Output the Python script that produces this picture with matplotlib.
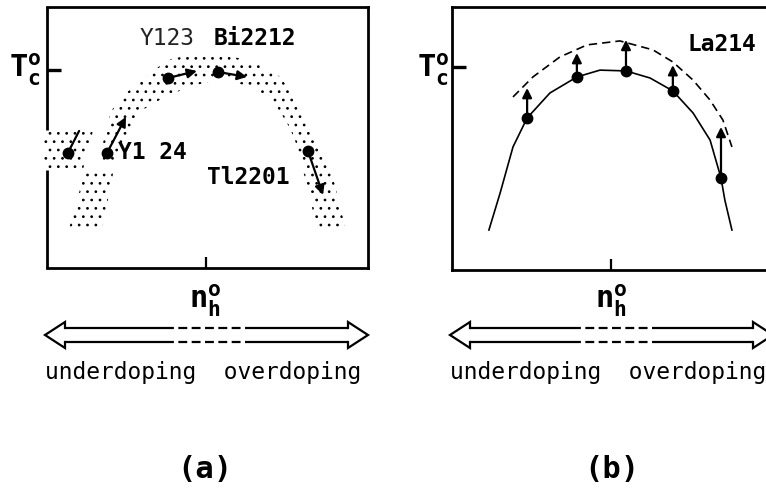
import matplotlib
matplotlib.use("Agg")
import matplotlib.pyplot as plt
from matplotlib.patches import Polygon

plt.rcParams["font.family"] = "DejaVu Sans Mono"
plt.rcParams["mathtext.fontset"] = "custom"
plt.rcParams["mathtext.rm"] = "DejaVu Sans Mono"
plt.rcParams["mathtext.bf"] = "DejaVu Sans Mono:bold"
plt.rcParams["hatch.linewidth"] = 0.75

# (a) samples: where each sits on the dome and where it moves to
a_dot_x = [6.5, 18.7, 37.7, 53.3, 81.3]
a_dot_y = [44.1, 44.1, 72.8, 75.1, 44.8]
a_end_x = [10.0, 24.6, 46.7, 62.3, 86.0]
a_end_y = [52.5, 57.9, 75.5, 73.2, 28.0]
a_head = [False, True, True, True, True]

# (a) stippled region of the Tc dome
band_outer_x = [17.0, 18.1, 20.2, 23.8, 29.0, 34.2, 37.3, 44.5, 52.9, 60.1, 66.4,
                72.6, 76.7, 79.8, 83.0, 86.1, 88.7, 90.2, 91.8, 92.8]
band_outer_y = [43.3, 53.5, 60.5, 66.3, 71.4, 76.5, 79.7, 81.6, 82.3, 80.3, 77.8,
                73.3, 66.3, 59.9, 52.2, 44.6, 36.9, 29.2, 21.6, 15.2]
band_inner_x = [83.5, 82.5, 80.9, 79.3, 77.8, 75.7, 72.6, 69.5, 64.3, 58.0, 50.8,
                44.5, 38.3, 33.1, 29.0, 26.9, 23.8, 21.7, 20.7, 17.0]
band_inner_y = [15.2, 24.1, 31.8, 39.5, 47.1, 53.5, 59.9, 65.0, 68.9, 71.4, 71.4,
                69.5, 66.3, 63.1, 59.9, 54.8, 48.4, 43.3, 40.7, 40.7]
patch_left_x = [-1.0, 14.4, 11.3, -1.0]
patch_left_y = [52.2, 52.9, 38.2, 38.2]
patch_low_x = [11.8, 20.7, 17.0, 6.6]
patch_low_y = [36.9, 36.9, 13.9, 13.9]

# (b) La214: measured Tc, shifted Tc, and the two dome curves
b_dot_x = [23.4, 38.9, 54.2, 68.8, 83.8]
b_dot_y = [57.8, 73.4, 75.7, 68.1, 35.0]
b_tip_y = [69.2, 82.5, 87.5, 77.9, 54.4]
b_solid_x = [11.5, 15.0, 19.0, 23.4, 30.5, 38.9, 46.1, 54.2, 61.7, 68.8, 75.1,
             80.4, 83.8, 85.0, 87.2]
b_solid_y = [15.2, 29.3, 46.8, 57.8, 67.3, 73.4, 76.0, 75.7, 73.0, 68.1, 59.7,
             49.4, 35.0, 26.6, 15.2]
b_dash_x = [19.0, 25.2, 33.6, 42.1, 52.3, 62.6, 68.8, 75.1, 80.4, 84.4, 87.2]
b_dash_y = [65.8, 73.4, 81.0, 85.6, 87.1, 83.7, 79.1, 72.2, 64.6, 57.0, 46.8]

nh_opt = 49.5
tc_max_a = 75.9
tc_max_b = 77.2

W, H = 766, 500
LBL = 16.5


def frame(fig, left, top, right, bottom):
    ax = fig.add_axes([left / W, 1 - bottom / H, (right - left) / W, (bottom - top) / H])
    ax.set_xlim(0, 100)
    ax.set_ylim(0, 100)
    for s in ax.spines.values():
        s.set_linewidth(2.0)
    ax.set_xticks([nh_opt])
    ax.set_xticklabels([])
    ax.tick_params(axis="x", direction="in", length=8, width=1.6)
    ax.tick_params(axis="y", direction="in", length=10, width=2.4)
    return ax


def doping_arrow(ov, x0, x1, y, d0, d1):
    half, head, spread = 7, 20, 13
    kw = dict(color="k", lw=1.6, solid_capstyle="butt")
    for yy in (y - half, y + half):
        ov.plot([x0 + head, d0], [yy, yy], **kw)
        ov.plot([d0, d1], [yy, yy], ls=(0, (4, 2)), **kw)
        ov.plot([d1, x1 - head], [yy, yy], **kw)
    for tip, base in ((x0, x0 + head), (x1, x1 - head)):
        ov.plot([base, base, tip, base, base],
                [y - half, y - spread, y, y + spread, y + half],
                color="k", lw=1.6, solid_joinstyle="miter")


def axis_labels(fig, tx, nx, underx):
    fig.text(tx / W, 1 - 70 / H, r"$\mathbf{T}_\mathbf{c}^\mathbf{o}$",
             fontsize=22, ha="center", va="center")
    fig.text(nx / W, 1 - 301 / H, r"$\mathbf{n}_\mathbf{h}^\mathbf{o}$",
             fontsize=22, ha="center", va="center")
    fig.text(underx / W, 1 - 373 / H, "underdoping  overdoping",
             fontsize=LBL, ha="center", va="center")


fig = plt.figure(figsize=(W / 100, H / 100), dpi=100)

ov = fig.add_axes([0, 0, 1, 1], zorder=-1)
ov.set_xlim(0, W)
ov.set_ylim(H, 0)
ov.axis("off")

# ---- (a)
ax = frame(fig, 47, 7, 368, 268)
ax.set_yticks([tc_max_a])
ax.set_yticklabels([])
ax.spines["left"].set_visible(False)
for y0, y1 in ((0, 0.375), (0.529, 1)):
    ax.plot([0, 0], [y0, y1], transform=ax.transAxes, color="k", lw=2.0,
            clip_on=False, solid_capstyle="butt")

band = list(zip(band_outer_x + band_inner_x, band_outer_y + band_inner_y))
for pts in (band, list(zip(patch_left_x, patch_left_y)), list(zip(patch_low_x, patch_low_y))):
    ax.add_patch(Polygon(pts, closed=True, facecolor="none", edgecolor="k",
                         linewidth=0, hatch="..", clip_on=False))

ax.plot(a_dot_x, a_dot_y, "o", color="k", ms=7.5, ls="none", zorder=5)
for x0, y0, x1, y1, hd in zip(a_dot_x, a_dot_y, a_end_x, a_end_y, a_head):
    style = "-|>" if hd else "-"
    ax.annotate("", xy=(x1, y1), xytext=(x0, y0),
                arrowprops=dict(arrowstyle=style, color="k", lw=1.6,
                                mutation_scale=14, shrinkA=0, shrinkB=0))

ax.text(37.4, 88.1, "Y123", fontsize=LBL, ha="center", va="center", color="#222222")
ax.text(64.8, 88.1, "Bi2212", fontsize=LBL, ha="center", va="center", fontweight="bold")
ax.text(22.1, 44.4, "Y1 24", fontsize=LBL, ha="left", va="center", fontweight="bold")
ax.text(62.6, 34.5, "Tl2201", fontsize=LBL, ha="center", va="center", fontweight="bold")

axis_labels(fig, 25, 205, 203)
doping_arrow(ov, 45, 368, 335, 165, 248)
fig.text(205 / W, 1 - 470 / H, "(a)", fontsize=22, ha="center", va="center", fontweight="bold")

# ---- (b)
bx = frame(fig, 452, 7, 773, 270)
bx.set_yticks([tc_max_b])
bx.set_yticklabels([])

bx.plot(b_solid_x, b_solid_y, color="k", lw=1.2)
bx.plot(b_dash_x, b_dash_y, color="k", lw=1.2, dashes=(5, 3))
bx.plot(b_dot_x, b_dot_y, "o", color="k", ms=7.5, ls="none", zorder=5)
for x0, y0, y1 in zip(b_dot_x, b_dot_y, b_tip_y):
    bx.annotate("", xy=(x0, y1), xytext=(x0, y0),
                arrowprops=dict(arrowstyle="-|>", color="k", lw=1.6,
                                mutation_scale=14, shrinkA=0, shrinkB=0))
bx.text(84.1, 85.9, "La214", fontsize=LBL, ha="center", va="center", fontweight="bold")

axis_labels(fig, 433, 611, 608)
doping_arrow(ov, 450, 773, 335, 572, 655)
fig.text(612 / W, 1 - 470 / H, "(b)", fontsize=22, ha="center", va="center", fontweight="bold")

fig.savefig("out.png", dpi=100)
